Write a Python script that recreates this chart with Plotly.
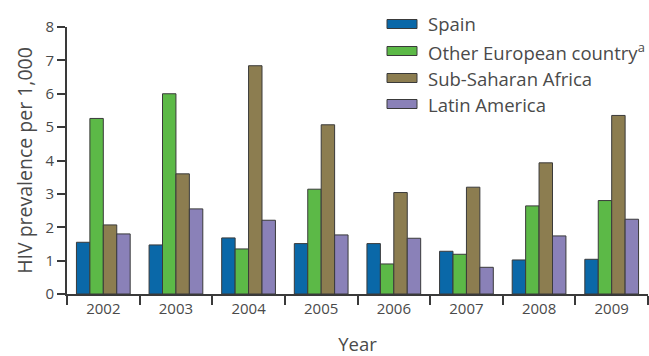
import plotly.graph_objects as go

# Survey years and HIV prevalence (per 1,000) by region of origin
years = ["2002", "2003", "2004", "2005", "2006", "2007", "2008", "2009"]
spain = [1.55, 1.47, 1.68, 1.51, 1.51, 1.28, 1.02, 1.04]
other_europe = [5.26, 6.00, 1.35, 3.14, 0.90, 1.19, 2.64, 2.80]
sub_saharan = [2.07, 3.60, 6.84, 5.07, 3.04, 3.20, 3.93, 5.35]
latin_america = [1.80, 2.55, 2.21, 1.77, 1.67, 0.80, 1.74, 2.24]

series_names = ["Spain", "Other European country<sup>a</sup>",
                "Sub-Saharan Africa", "Latin America"]
series_values = [spain, other_europe, sub_saharan, latin_america]
series_colors = ["#0a68a8", "#5cb947", "#8c7d50", "#8a81b8"]

FONT = "Open Sans"
TEXT = "#4a4a4a"
LINE = "#3a3a3a"

W, H = 649, 356
L, R, T, B = 67, 1, 27, 62
plot_w = W - L - R
plot_h = H - T - B

fig = go.Figure()
for name, vals, col in zip(series_names, series_values, series_colors):
    fig.add_trace(go.Bar(
        x=years, y=vals, name=name, marker_color=col,
        marker_line=dict(color=LINE, width=1), showlegend=False,
    ))

# Legend drawn as swatches + labels to the upper right
def px_to_paper_x(px):
    return (px - L) / plot_w

def px_to_paper_y(py):
    return (H - B - py) / plot_h

legend_rows = [24, 51, 78, 104]
shapes = []
annotations = []
for name, col, ry in zip(series_names, series_colors, legend_rows):
    shapes.append(dict(
        type="rect", xref="paper", yref="paper",
        x0=px_to_paper_x(387), x1=px_to_paper_x(417),
        y0=px_to_paper_y(ry + 4.5), y1=px_to_paper_y(ry - 4.5),
        fillcolor=col, line=dict(color=LINE, width=1),
    ))
    annotations.append(dict(
        text=name, xref="paper", yref="paper",
        x=px_to_paper_x(426), y=px_to_paper_y(ry),
        xanchor="left", yanchor="middle", showarrow=False,
        font=dict(family=FONT, size=18.5, color=TEXT),
    ))

fig.update_layout(
    width=W, height=H,
    margin=dict(l=L, r=R, t=T, b=B, pad=0),
    paper_bgcolor="white", plot_bgcolor="white",
    barmode="group", bargap=0.26, bargroupgap=0,
    font=dict(family=FONT, color=TEXT),
    shapes=shapes, annotations=annotations,
    xaxis=dict(
        type="category", tickson="boundaries", ticks="outside",
        ticklen=9, tickwidth=2, tickcolor=LINE,
        showline=True, linecolor=LINE, linewidth=2,
        showgrid=False, tickfont=dict(size=15, color=TEXT),
        title=dict(text="Year", font=dict(size=18.5, color=TEXT), standoff=24),
    ),
    yaxis=dict(
        range=[0, 8], dtick=1, ticks="outside", ticklen=8, tickwidth=2,
        tickcolor=LINE, showline=True, linecolor=LINE, linewidth=2,
        showgrid=False, zeroline=False, tickfont=dict(size=15, color=TEXT),
        title=dict(text="HIV prevalence per 1,000",
                   font=dict(size=19.5, color=TEXT), standoff=8),
    ),
)

fig.write_html("out.html")
